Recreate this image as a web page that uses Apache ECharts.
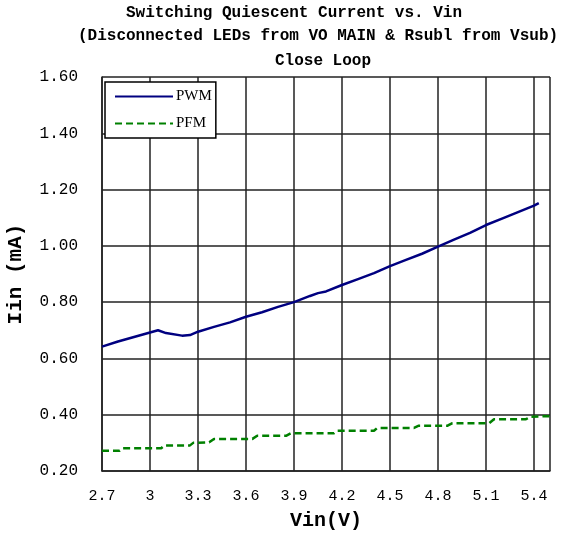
<!DOCTYPE html>
<html>
<head>
<meta charset="utf-8">
<script src="https://cdn.jsdelivr.net/npm/echarts@6/dist/echarts.min.js"></script>
<style>
  html, body { margin: 0; padding: 0; background: #fff; }
  #chart { width: 573px; height: 533px; }
</style>
</head>
<body>
<div id="chart"></div>
<script>
// Vin (V) and Iin (mA)
const pwmVin = [2.7, 2.8, 2.9, 3.0, 3.05, 3.1, 3.2, 3.25, 3.3, 3.4, 3.5, 3.6, 3.7, 3.8, 3.9, 4.0, 4.05, 4.1, 4.2, 4.3, 4.4, 4.5, 4.6, 4.7, 4.8, 4.9, 5.0, 5.1, 5.2, 5.3, 5.4, 5.43]
const pwmIin = [0.642, 0.660, 0.676, 0.692, 0.700, 0.690, 0.681, 0.683, 0.695, 0.712, 0.728, 0.748, 0.764, 0.783, 0.800, 0.822, 0.832, 0.838, 0.861, 0.882, 0.903, 0.928, 0.950, 0.972, 0.997, 1.022, 1.046, 1.074, 1.097, 1.120, 1.143, 1.152]

const pfmVin = [2.7, 2.81, 2.83, 3.07, 3.09, 3.25, 3.27, 3.37, 3.40, 3.64, 3.67, 3.85, 3.88, 4.15, 4.17, 4.40, 4.42, 4.65, 4.68, 4.86, 4.89, 5.12, 5.15, 5.35, 5.38, 5.5]
const pfmIin = [0.272, 0.272, 0.281, 0.281, 0.291, 0.291, 0.300, 0.302, 0.314, 0.314, 0.325, 0.325, 0.334, 0.334, 0.343, 0.343, 0.353, 0.353, 0.361, 0.361, 0.370, 0.370, 0.384, 0.384, 0.393, 0.395]

const titleLines = [
  'Switching Quiescent Current vs. Vin',
  '(Disconnected LEDs from VO MAIN & Rsubl from Vsub)',
  'Close Loop',
]

const mono = '"Liberation Mono", "DejaVu Sans Mono", monospace'
const gridColor = '#222'

const chart = echarts.init(document.getElementById('chart'))

chart.setOption({
  animation: false,
  backgroundColor: '#fff',
  title: [
    { text: titleLines[0], left: 126, top: 5 },
    { text: titleLines[1], left: 78, top: 28 },
    { text: titleLines[2], left: 275, top: 53 },
  ].map((t) => ({
    ...t,
    padding: 0,
    textStyle: { fontFamily: mono, fontWeight: 'bold', fontSize: 16, color: '#000' },
  })),
  legend: {
    orient: 'vertical',
    left: 105,
    top: 82,
    padding: [7, 4, 7, 9],
    itemGap: 12,
    itemWidth: 58,
    itemHeight: 14,
    backgroundColor: '#fff',
    borderColor: '#000',
    borderWidth: 1.5,
    itemStyle: { opacity: 0 },
    textStyle: { fontFamily: '"Liberation Serif", serif', fontSize: 15, color: '#000', padding: [0, 0, 0, -2] },
    data: ['PWM', 'PFM'],
  },
  grid: { left: 102, right: 23, top: 77, bottom: 62, outerBoundsMode: 'none' },
  xAxis: {
    type: 'value',
    min: 2.7,
    max: 5.5,
    interval: 0.3,
    name: 'Vin(V)',
    nameLocation: 'middle',
    nameGap: 40,
    nameTextStyle: { fontFamily: mono, fontWeight: 'bold', fontSize: 20, color: '#000' },
    axisLine: { lineStyle: { color: gridColor, width: 1.5 } },
    axisTick: { show: false },
    axisLabel: {
      showMaxLabel: false,
      margin: 18,
      fontFamily: mono,
      fontSize: 15,
      color: '#000',
    },
    splitLine: { show: true, lineStyle: { color: gridColor, width: 1.5 } },
  },
  yAxis: {
    type: 'value',
    min: 0.2,
    max: 1.6,
    interval: 0.2,
    name: 'Iin (mA)',
    nameLocation: 'middle',
    nameGap: 76,
    nameTextStyle: { fontFamily: mono, fontWeight: 'bold', fontSize: 21, color: '#000' },
    axisLine: { show: true, lineStyle: { color: gridColor, width: 1.5 } },
    axisTick: { show: false },
    axisLabel: {
      margin: 24,
      fontFamily: mono,
      fontSize: 16,
      color: '#000',
      formatter: (v) => v.toFixed(2),
    },
    splitLine: { show: true, lineStyle: { color: gridColor, width: 1.5 } },
  },
  series: [
    {
      name: 'PWM',
      type: 'line',
      data: pwmVin.map((v, i) => [v, pwmIin[i]]),
      symbol: 'none',
      lineStyle: { color: '#000080', width: 2.5 },
      itemStyle: { color: '#000080' },
    },
    {
      name: 'PFM',
      type: 'line',
      data: pfmVin.map((v, i) => [v, pfmIin[i]]),
      symbol: 'none',
      lineStyle: { color: '#008000', width: 2.5, type: [7, 4] },
      itemStyle: { color: '#008000' },
    },
  ],
})
</script>
</body>
</html>
